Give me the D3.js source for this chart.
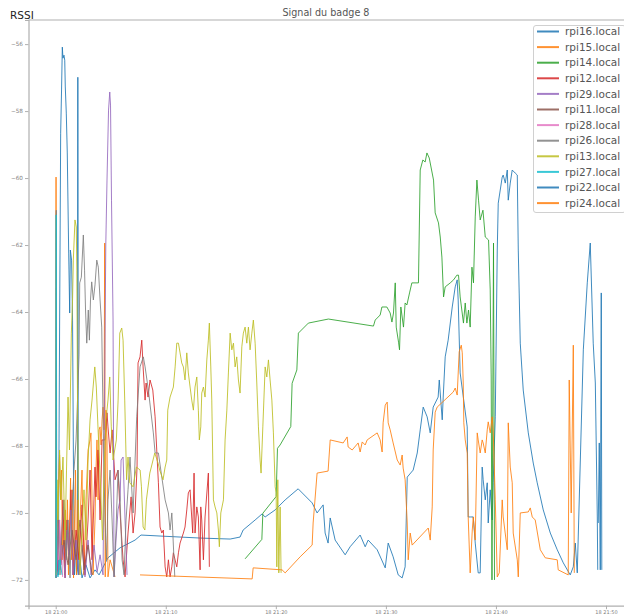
<!DOCTYPE html>
<html>
<head>
<meta charset="utf-8">
<script src="https://cdn.jsdelivr.net/npm/d3@7"></script>
<style>
body { margin: 0; background: #fff; }
svg { display: block; font-family: "DejaVu Sans", sans-serif; }
</style>
</head>
<body>
<div id="chart"></div>
<script>
"use strict";

//Readings of badge 8: [minutes after 18 21:00, RSSI]
var rpi16 = [[0.07,-71.94],[0.16,-71.4],[0.24,-71.85],[0.36,-64.03],[0.45,-58.66],[0.53,-57.37],[0.6,-56.09],[0.66,-56.42],[0.75,-56.33],[0.82,-56.48],[0.87,-57.28],[0.96,-58.06],[1.05,-59.25],[1.18,-62.24],[1.27,-64.03],[1.33,-62.15],[1.44,-62.45],[1.53,-64.24],[1.62,-69.01],[1.71,-71.85],[1.8,-70.81],[1.89,-71.85],[1.98,-71.7],[2.01,-56.99],[2.05,-71.85],[2.21,-71.4],[2.39,-71.94],[2.75,-71.55],[3.12,-71.94],[3.57,-71.7],[3.94,-71.85],[4.75,-71.34],[5.85,-71.04],[7.21,-70.81],[7.75,-70.66],[9.48,-70.69],[13.12,-70.75],[15.85,-70.78],[16.75,-70.72],[17.03,-70.51],[18.12,-70.21],[18.75,-70.03],[19.03,-70.12],[19.94,-69.91],[20.85,-69.61],[22.03,-69.28],[23.3,-69.7],[23.75,-70],[24.3,-69.76],[24.48,-70.6],[24.75,-70.9],[24.94,-70.15],[25.39,-70.81],[26.3,-71.25],[26.75,-71.01],[27.66,-70.66],[28.12,-71.01],[28.39,-70.81],[29.21,-71.1],[29.94,-71.64],[30.21,-70.9],[30.66,-71.31],[31.12,-71.85],[31.48,-71.94],[31.75,-71.61],[31.94,-68.93],[32.48,-68.72],[32.85,-68.21],[33.12,-67.52],[33.39,-66.84],[33.75,-67.13],[34.03,-67.61],[34.3,-66.84],[34.75,-66.54],[34.85,-66.03],[35.12,-67.22],[35.21,-66.54],[35.39,-65.34],[35.66,-64.84],[36.03,-63.85],[36.3,-63.25],[36.48,-63.04],[36.57,-63.64],[36.75,-65.82],[37.39,-67.43],[37.48,-70.12],[37.66,-70.12],[37.94,-70.12],[38.12,-70.9],[38.39,-71.79],[38.57,-71.79],[38.75,-68.63],[38.84,-69.01],[39.03,-69.61],[39.21,-69.1],[39.3,-70.3],[39.48,-69.31],[39.66,-70.21],[39.75,-69.1],[39.94,-67.13],[40.12,-62.15],[40.21,-60.75],[40.57,-59.97],[40.66,-59.91],[40.85,-60.15],[41.03,-59.76],[41.12,-60.66],[41.3,-60.15],[41.48,-59.76],[41.75,-59.85],[41.94,-59.91],[42.03,-62.15],[42.21,-64.93],[42.48,-66.33],[42.94,-67.61],[43.39,-68.51],[43.75,-69.1],[44.3,-69.91],[44.94,-70.6],[45.57,-71.1],[46.12,-71.49],[46.75,-71.85],[47.03,-71.61],[47.21,-70.9],[47.39,-71.79],[47.94,-65.13],[48.3,-63.13],[48.57,-61.94],[48.84,-64.93],[49.03,-66.12],[49.21,-70.12],[49.25,-71.7]];

var rpi15 = [[0,-71.94],[0.03,-59.97],[0.05,-71.7],[0.16,-70.21],[0.25,-69.31],[0.35,-68.27],[0.44,-69.61],[0.53,-68.72],[0.62,-71.4],[0.71,-70.21],[0.8,-71.85],[0.89,-69.91],[0.98,-70.96],[1.07,-69.61],[1.16,-71.85],[1.25,-70.51],[1.35,-68.96],[1.44,-71.4],[1.53,-69.31],[1.62,-71.94],[1.71,-70.21],[1.8,-68.72],[1.89,-71.85],[2.03,-69.61],[2.12,-71.4],[2.25,-69.91],[2.39,-68.72],[2.48,-70.81],[2.57,-71.85],[2.75,-69.61],[2.94,-68.12],[3.12,-67.82],[3.2,-67.61],[3.3,-69.61],[3.39,-71.85],[3.57,-70.21],[3.66,-68.72],[3.75,-67.82],[3.85,-69.61],[3.94,-67.52],[4.03,-67.43],[4.12,-67.97],[4.21,-67.22],[4.3,-66.84],[4.39,-67.52],[4.45,-61.94],[4.5,-71.91],[4.57,-66.93],[4.66,-67.82],[4.75,-71.91],[4.94,-71.4],[5.39,-71.91]];

var rpi14 = [[17.21,-71.37],[18.73,-70.79],[18.82,-70.01],[20.03,-69.51],[20.15,-68.07],[20.39,-67.97],[21.36,-67.42],[21.48,-66.13],[21.91,-65.73],[22.05,-64.63],[22.96,-64.33],[24.78,-64.21],[28.87,-64.42],[29.03,-64.24],[29.48,-64.09],[29.64,-63.85],[30.09,-63.85],[30.39,-64.03],[30.55,-64.3],[30.69,-64.03],[30.85,-63.13],[30.94,-64.45],[31.15,-64.9],[31.24,-65.13],[31.36,-63.85],[31.6,-64.45],[31.75,-63.73],[31.91,-63.79],[32.15,-63.43],[32.36,-63.13],[32.96,-63.13],[33.12,-59.76],[33.36,-59.46],[33.57,-59.52],[33.73,-59.25],[33.94,-59.4],[34.33,-60.06],[34.48,-61.04],[34.78,-61.34],[34.94,-61.76],[35.09,-62.36],[35.24,-63.55],[35.39,-63.25],[35.85,-63.13],[36.15,-63.04],[36.45,-62.9],[36.6,-62.9],[36.75,-63.55],[37.05,-64.33],[37.21,-63.73],[37.36,-64.33],[37.51,-63.94],[37.66,-64.45],[37.82,-62.66],[37.96,-63.13],[38.12,-61.16],[38.27,-60.06],[38.42,-60.66],[38.57,-61.25],[38.82,-60.96],[39.03,-61.76],[39.33,-61.85],[39.48,-63.34],[39.57,-65.94],[39.64,-72],[39.78,-61.94],[39.87,-72]];

var rpi12 = [[0.12,-71.85],[0.3,-70.21],[0.48,-71.4],[0.66,-69.61],[0.85,-71.94],[1.03,-70.21],[1.21,-71.25],[1.39,-69.31],[1.57,-71.85],[1.85,-70.51],[2.12,-71.4],[2.39,-69.76],[2.66,-71.85],[2.94,-70.21],[3.12,-68.72],[3.3,-71.4],[3.57,-68.63],[3.66,-69.52],[3.85,-68.12],[4.03,-70.21],[4.21,-67.82],[4.48,-67.82],[4.66,-67.01],[4.75,-67.43],[4.94,-68.21],[5.12,-67.52],[5.39,-69.01],[5.66,-68.72],[5.85,-70],[6.12,-71.4],[6.3,-71.91],[6.57,-70.6],[6.85,-69.52],[7.03,-70.6],[7.21,-70],[7.39,-68.63],[7.48,-65.52],[7.66,-65.34],[7.82,-64.84],[7.94,-65.64],[8.12,-66.63],[8.21,-66.12],[8.39,-66.54],[8.57,-66.03],[8.82,-66.33],[9.03,-67.13],[9.18,-68.12],[9.33,-69.1],[9.48,-70.42],[9.64,-70.6],[9.78,-70.51],[9.94,-71.61],[10.09,-71.91],[10.24,-71.4],[10.39,-71.91],[10.55,-71.61],[10.69,-71.19],[11,-71.61],[11.15,-71.19],[11.3,-70.9],[11.6,-70.6],[11.75,-70.42],[11.91,-69.91],[12.05,-69.4],[12.21,-69.31],[12.3,-69.82],[12.45,-70.6],[12.57,-68.81],[12.66,-70.6],[12.82,-69.82],[12.96,-70.12],[13.12,-71.7],[13.18,-69.82],[13.27,-70.21],[13.42,-71.4],[13.57,-70.12],[13.87,-68.81],[13.96,-71.61]];

var rpi29 = [[0.07,-71.91],[0.21,-70.81],[0.35,-70.21],[0.48,-71.55],[0.66,-70.96],[0.85,-71.94],[1.03,-70.51],[1.21,-71.4],[1.39,-69.91],[1.57,-71.85],[1.85,-70.81],[2.12,-71.85],[2.39,-70.96],[2.66,-71.91],[2.94,-70.81],[3.21,-71.85],[3.48,-70.96],[3.76,-71.76],[4.03,-71.25],[4.3,-71.85],[4.55,-62],[4.66,-60.06],[4.8,-57.97],[4.91,-57.43],[4.98,-57.82],[5.07,-60.66],[5.21,-64.24],[5.3,-71.91],[5.48,-70.81],[5.66,-69.91],[5.85,-69.61],[5.94,-68.42],[6.12,-68.33],[6.3,-70.21],[6.48,-71.85]];

var rpi11 = [[0.39,-71.7],[0.75,-70.81],[1.12,-71.55],[1.48,-70.51],[1.85,-71.4],[2.21,-70.21],[2.57,-71.7],[2.94,-70.96],[3.3,-71.85]];

var rpi28 = [[0.07,-71.85],[0.16,-70.81],[0.25,-71.4],[0.35,-70.21],[0.44,-71.55],[0.53,-70.96],[0.62,-71.91]];

var rpi26 = [[0,-71.94],[0.05,-60.96],[0.1,-71.4],[0.21,-70.21],[0.39,-71.85],[0.57,-70.51],[0.75,-69.61],[0.94,-71.4],[1.12,-70.21],[1.3,-71.94],[1.48,-69.91],[1.66,-68.72],[1.85,-67.82],[1.98,-66.63],[2.12,-65.28],[2.18,-63.13],[2.33,-62.96],[2.51,-61.7],[2.62,-62.75],[2.71,-63.94],[2.82,-64.93],[2.96,-63.94],[3.06,-64.84],[3.16,-63.64],[3.27,-63.1],[3.42,-63.64],[3.57,-63.19],[3.73,-62.45],[3.87,-62.66],[4.03,-63.64],[4.18,-64.45],[4.25,-66.03],[4.35,-68.12],[4.48,-70.21],[4.62,-71.4],[4.75,-69.61],[4.94,-68.72],[5.12,-70.21],[5.3,-71.91],[5.48,-70.51],[5.66,-68.72],[5.85,-69.61],[6.03,-71.4],[6.21,-71.85],[6.39,-70.21],[6.57,-69.31],[6.75,-68.33],[7.03,-70],[7.36,-67.13],[7.66,-65.64],[7.96,-65.34],[8.12,-65.64],[8.42,-66.33],[8.87,-67.61],[9.03,-68.21],[9.33,-68.21],[9.64,-68.93],[9.94,-69.61],[10.24,-70],[10.39,-70.51],[10.55,-70],[10.64,-70.6],[10.82,-71.91]];

var rpi13 = [[0.03,-71.85],[0.12,-69.01],[0.21,-70.21],[0.35,-68.12],[0.48,-69.61],[0.66,-68.33],[0.85,-70.81],[0.98,-68.72],[1.12,-66.54],[1.25,-68.12],[1.42,-64.63],[1.53,-63.64],[1.6,-62.45],[1.75,-61.25],[1.87,-61.46],[1.92,-62.75],[1.98,-66.63],[2.07,-70.21],[2.21,-71.85],[2.39,-70.51],[2.57,-69.31],[2.75,-70.81],[2.94,-68.42],[3.12,-67.22],[3.3,-66.63],[3.55,-65.64],[3.69,-66.24],[3.85,-67.52],[4,-68.63],[4.12,-69.61],[4.25,-70.81],[4.39,-68.72],[4.57,-67.22],[4.75,-66.63],[4.91,-65.94],[5.05,-67.43],[5.21,-68.42],[5.51,-67.82],[5.67,-66.63],[5.82,-64.63],[6,-64.48],[6.12,-64.84],[6.27,-66.63],[6.44,-69.01],[6.57,-68.33],[6.73,-69.1],[7.03,-69.22],[7.33,-68.63],[7.67,-68.72],[7.79,-69.22],[7.94,-70.42],[8.1,-70.51],[8.24,-69.61],[8.55,-68.81],[9,-68.21],[9.3,-68.51],[9.45,-68.72],[9.75,-69.01],[9.94,-68.63],[10.09,-68.42],[10.18,-66.93],[10.39,-66.54],[10.69,-66.24],[10.85,-65.64],[11,-64.93],[11.15,-64.93],[11.3,-65.22],[11.45,-65.52],[11.6,-65.64],[11.75,-66.03],[11.91,-65.22],[12.05,-65.82],[12.21,-66.24],[12.36,-66.63],[12.51,-66.93],[12.66,-66.24],[12.82,-65.94],[12.96,-66.93],[13.05,-67.82],[13.18,-67.43],[13.27,-66.42],[13.42,-66.24],[13.57,-66.54],[13.73,-65.43],[13.87,-64.84],[13.96,-64.33],[14.09,-65.64],[14.18,-66.63],[14.33,-69.61],[14.48,-69.82],[14.64,-70],[14.78,-70.51],[14.87,-71.01],[15,-70],[15.24,-69.61],[15.39,-67.82],[15.55,-66.93],[15.69,-65.82],[15.85,-64.63],[16,-65.13],[16.15,-64.93],[16.3,-65.64],[16.45,-65.34],[16.6,-66.03],[16.75,-66.42],[16.91,-65.04],[17.05,-64.63],[17.21,-64.45],[17.36,-64.93],[17.51,-64.45],[17.66,-65.13],[17.82,-64.63],[17.96,-64.24],[18.12,-64.93],[18.27,-66.12],[18.42,-67.43],[18.57,-68.42],[18.66,-68.81],[18.82,-67.43],[19.03,-65.64],[19.18,-65.94],[19.33,-65.43],[19.48,-66.03],[19.64,-66.63],[19.78,-67.61],[19.94,-69.22],[20.03,-69.4],[20.09,-71.61],[20.18,-69.01],[20.27,-71.79],[20.39,-69.82],[20.48,-71.79]];

var rpi27 = [[0.01,-71.94],[0.04,-61.1],[0.07,-71.7],[0.21,-71.91],[0.39,-71.4],[0.57,-71.85]];

var rpi22 = [[49.3,-70.3],[49.39,-67.91],[49.48,-71.7],[49.57,-63.43],[49.62,-71.7]];

var rpi24 = [[7.66,-71.85],[17.85,-71.97],[17.94,-71.64],[20.57,-71.7],[20.85,-71.79],[22.21,-71.31],[23.3,-70.96],[23.39,-70.3],[23.75,-68.81],[24.75,-68.75],[24.94,-67.82],[26.12,-67.91],[26.48,-67.73],[26.57,-68.03],[26.94,-68.12],[27.48,-67.91],[27.66,-68.18],[27.85,-67.88],[28.12,-67.97],[28.3,-67.82],[29.21,-67.61],[29.48,-67.82],[29.66,-68.18],[29.75,-67.31],[29.94,-66.78],[30.12,-66.69],[30.21,-67.31],[30.39,-67.52],[30.66,-67.91],[31.03,-68.42],[31.3,-68.57],[31.48,-68.27],[31.57,-68.66],[31.75,-69.01],[31.94,-70.3],[32.03,-71.4],[32.21,-70.6],[32.39,-70.96],[33.85,-70.45],[34.03,-70.81],[34.21,-69.82],[34.3,-68.12],[34.48,-66.99],[34.66,-66.84],[36.12,-66.39],[36.3,-66.27],[36.48,-66.48],[36.66,-65.19],[36.85,-64.99],[36.94,-65.22],[37.03,-66.12],[37.08,-67.31],[37.21,-67.82],[37.39,-68.21],[37.48,-70.12],[37.66,-71.79],[37.85,-70.51],[37.94,-70.12],[38.12,-70.81],[38.3,-67.61],[38.39,-67.82],[38.57,-68.21],[38.75,-67.82],[38.84,-67.91],[39.03,-68.21],[39.21,-67.52],[39.3,-67.28],[39.48,-67.61],[39.66,-67.13],[39.75,-67.52],[39.94,-69.61],[40.12,-71.91],[40.3,-71.79],[40.57,-69.61],[40.66,-70.12],[41.03,-71.1],[41.12,-67.31],[41.3,-68.63],[41.48,-69.1],[41.57,-70.6],[41.94,-71.4],[42.03,-71.91],[42.21,-70],[42.94,-69.97],[43.12,-69.85],[43.3,-70.12],[43.57,-70.21],[44.03,-71.1],[44.48,-71.34],[45.57,-71.4],[45.66,-71.7],[46.57,-71.85],[46.66,-66.03],[46.84,-70],[47.03,-64.99],[47.12,-71.79]];

var receivers = ["rpi16.local", "rpi15.local", "rpi14.local", "rpi12.local", "rpi29.local", "rpi11.local",
    "rpi28.local", "rpi26.local", "rpi13.local", "rpi27.local", "rpi22.local", "rpi24.local"];
var readings = [rpi16, rpi15, rpi14, rpi12, rpi29, rpi11, rpi28, rpi26, rpi13, rpi27, rpi22, rpi24];
var yTicks = [-72, -70, -68, -66, -64, -62, -60, -58, -56];

//Layout
var width = 624;
var height = 614;
var plotLeft = 28.5;
var plotRight = 628;
var plotTop = 20;
var plotBottom = 605.7;
var spineColour = "#b0b0b0";
var tickTextColour = "#808080";

var baseTime = new Date(2020, 5, 18, 21, 0, 0);
function toDate(t) {
    return new Date(baseTime.getTime() + t * 60000);
}

//matplotlib cycle: ten colours, then starts again
var colour = d3.scaleOrdinal(d3.schemeCategory10).domain(receivers.slice(0, 10));

var x = d3.scaleTime()
    .domain([toDate(-2.473), toDate(52)])
    .range([plotLeft, plotRight]);
var y = d3.scaleLinear()
    .domain([-72.77, -55.28])
    .range([plotBottom, plotTop]);

var svg = d3.select("#chart").append("svg")
    .attr("width", width)
    .attr("height", height);

svg.append("clipPath").attr("id", "plotClip")
    .append("rect")
    .attr("x", plotLeft).attr("y", plotTop)
    .attr("width", plotRight - plotLeft).attr("height", plotBottom - plotTop);

//Lines, one per receiver
var line = d3.line()
    .x(function (d) { return x(toDate(d[0])); })
    .y(function (d) { return y(d[1]); });

svg.append("g")
    .attr("clip-path", "url(#plotClip)")
    .selectAll("path")
    .data(readings)
    .enter()
    .append("path")
    .attr("fill", "none")
    .attr("stroke", function (d, i) { return colour(receivers[i % 10]); })
    .attr("stroke-width", 1)
    .attr("stroke-opacity", 0.85)
    .attr("stroke-linejoin", "round")
    .attr("d", line);

//Axes
var yAxis = svg.append("g")
    .attr("transform", "translate(" + plotLeft + ",0)")
    .call(d3.axisLeft(y).tickValues(yTicks).tickSize(3.5).tickPadding(2).tickFormat(d3.format("d")));

var xAxis = svg.append("g")
    .attr("transform", "translate(0," + plotBottom + ")")
    .call(d3.axisBottom(x).ticks(d3.timeMinute.every(10)).tickSize(3.5).tickPadding(1).tickFormat(d3.timeFormat("%d %H:%M")));

[yAxis, xAxis].forEach(function (a) {
    a.select(".domain").attr("stroke", spineColour).attr("stroke-width", 1.2);
    a.selectAll(".tick line").attr("stroke", spineColour);
    a.selectAll(".tick text").attr("fill", tickTextColour).attr("font-family", "DejaVu Sans");
});
yAxis.selectAll(".tick text").attr("font-size", 5.7);
xAxis.selectAll(".tick text").attr("font-size", 5);

//Top spine
svg.append("line")
    .attr("x1", plotLeft).attr("x2", plotRight)
    .attr("y1", plotTop).attr("y2", plotTop)
    .attr("stroke", spineColour)
    .attr("stroke-width", 1.2);

//Titles
svg.append("text")
    .attr("x", 326)
    .attr("y", 16)
    .attr("text-anchor", "middle")
    .attr("font-size", 9.6)
    .attr("fill", "#555")
    .text("Signal du badge 8");

svg.append("text")
    .attr("x", 10)
    .attr("y", 19)
    .attr("font-size", 10.5)
    .attr("fill", "#222")
    .text("RSSI");

//Legend
var legend = svg.append("g");
legend.append("rect")
    .attr("x", 533.5).attr("y", 25.5)
    .attr("width", 92).attr("height", 187)
    .attr("rx", 2.5)
    .attr("fill", "#fff")
    .attr("fill-opacity", 0.8)
    .attr("stroke", "#d0d0d0");

var legendRows = legend.selectAll(".legendRow")
    .data(receivers)
    .enter()
    .append("g")
    .attr("class", "legendRow")
    .attr("transform", function (d, i) { return "translate(0," + (31.5 + i * 15.6) + ")"; });

legendRows.append("line")
    .attr("x1", 537).attr("x2", 559)
    .attr("stroke", function (d, i) { return colour(receivers[i % 10]); })
    .attr("stroke-opacity", 0.85)
    .attr("stroke-width", 2);

legendRows.append("text")
    .attr("x", 565)
    .attr("y", 3.7)
    .attr("font-size", 10.5)
    .attr("fill", "#555")
    .text(function (d) { return d; });
</script>
</body>
</html>
